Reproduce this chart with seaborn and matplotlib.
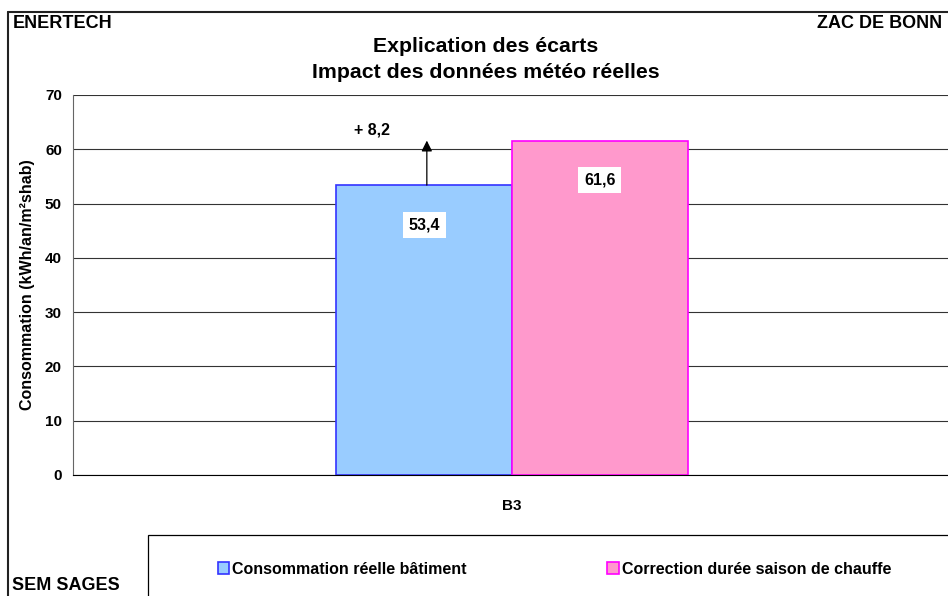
import matplotlib
matplotlib.use("Agg")
import matplotlib.pyplot as plt
from matplotlib.lines import Line2D
from matplotlib.patches import Rectangle
import pandas as pd
import seaborn as sns

# Chart data
categories = ["B3"]
series = ["Consommation réelle bâtiment", "Correction durée saison de chauffe"]
values = [53.4, 61.6]
delta_label = "+ 8,2"
fills = ["#99CCFF", "#FF99CC"]
edges = ["#3333FF", "#FF00FF"]

sns.set_style("white")
plt.rcParams["font.family"] = ["Liberation Sans", "DejaVu Sans"]
plt.rcParams["font.weight"] = "bold"
plt.rcParams["text.color"] = "black"
plt.rcParams["axes.labelcolor"] = "black"
plt.rcParams["xtick.color"] = "black"
plt.rcParams["ytick.color"] = "black"

df = pd.DataFrame({
    "batiment": categories * len(series),
    "serie": series,
    "conso": values,
})

fig = plt.figure(figsize=(9.48, 5.96), dpi=100)
ax = fig.add_axes([73 / 948, 121 / 596, 878 / 948, 380 / 596])

sns.barplot(data=df, x="batiment", y="conso", hue="serie", hue_order=series,
            palette=fills, width=0.4, legend=False, ax=ax, saturation=1)

for cont, ec in zip(ax.containers, edges):
    for p in cont:
        p.set_edgecolor(ec)
        p.set_linewidth(1.2)

ax.set_ylim(0, 70)
ax.set_yticks(range(0, 71, 10))
ax.set_xlim(-0.5, 0.5)
ax.yaxis.grid(True, color="#333333", linewidth=0.8)
ax.set_axisbelow(True)
for s in ["top", "right"]:
    ax.spines[s].set_visible(False)
ax.spines["left"].set_color("#666666")
ax.spines["bottom"].set_color("black")
ax.tick_params(axis="y", length=5, width=0.8, color="#666666", labelsize=11, pad=3,
               labelcolor="black")
ax.tick_params(axis="x", length=0, labelsize=11, pad=17, labelcolor="black")
ax.set_xlabel("")
ax.set_ylabel("Consommation (kWh/an/m²shab)", fontsize=11.5, fontweight="bold", labelpad=7)
for lab in ax.get_xticklabels() + ax.get_yticklabels():
    lab.set_fontweight("bold")

# value labels in white boxes
centers = []
for cont, v in zip(ax.containers, values):
    p = cont[0]
    xc = p.get_x() + p.get_width() / 2
    centers.append(xc)
    ax.text(xc, v - 7.3, f"{v:.1f}".replace(".", ","), ha="center", va="center",
            fontsize=11.5, fontweight="bold",
            bbox=dict(boxstyle="square,pad=0.35", fc="white", ec="none"))

# arrow showing the gap
ax.annotate("", xy=(centers[0] + 0.003, values[1]), xytext=(centers[0] + 0.003, values[0]),
            arrowprops=dict(arrowstyle="-|>", color="black", lw=0.9, mutation_scale=16,
                            shrinkA=0, shrinkB=0))
ax.text(-0.16, 63.5, delta_label, ha="center", va="center", fontsize=11.5, fontweight="bold")

# titles and page texts
fig.text(486 / 948, 1 - 47 / 596, "Explication des écarts", ha="center", va="center",
         fontsize=15.3, fontweight="bold")
fig.text(486 / 948, 1 - 73 / 596, "Impact des données météo réelles", ha="center", va="center",
         fontsize=15.3, fontweight="bold")
fig.text(13 / 948, 1 - 24 / 596, "ENERTECH", ha="left", va="center", fontsize=13,
         fontweight="bold")
fig.text(817 / 948, 1 - 24 / 596, "ZAC DE BONN", ha="left", va="center", fontsize=13,
         fontweight="bold")
fig.text(12 / 948, 1 - 585 / 596, "SEM SAGES", ha="left", va="center", fontsize=13,
         fontweight="bold")

# outer frame (left and top edges visible)
fig.add_artist(Line2D([8 / 948, 8 / 948], [0, 1 - 12 / 596], transform=fig.transFigure,
                      color="#222222", lw=1.5))
fig.add_artist(Line2D([8 / 948, 1], [1 - 12 / 596, 1 - 12 / 596], transform=fig.transFigure,
                      color="#222222", lw=1.5))

# legend box
fig.add_artist(Rectangle((148 / 948, -0.05), 1, (596 - 535) / 596 + 0.05, transform=fig.transFigure,
                         fill=False, ec="black", lw=0.9))
handles = [Rectangle((0, 0), 1, 1, fc=f, ec=e, lw=1.2) for f, e in zip(fills, edges)]
leg = fig.legend(handles, series, loc="center left", bbox_to_anchor=(218 / 948, 1 - 569 / 596),
                 ncol=2, frameon=False, handlelength=0.7, handleheight=0.7, borderpad=0,
                 borderaxespad=0, handletextpad=0.2, columnspacing=8.8,
                 prop={"weight": "bold", "size": 11.5})

fig.savefig("out.png", dpi=100)
